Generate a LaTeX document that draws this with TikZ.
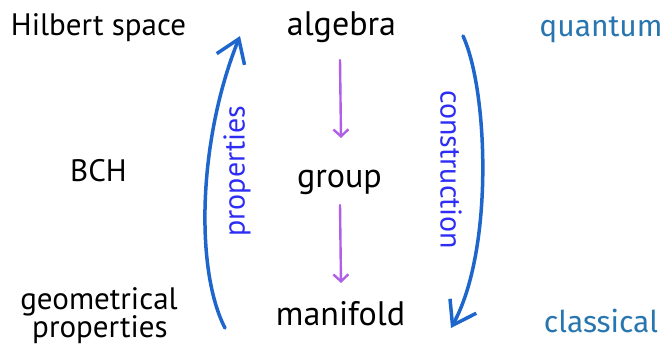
\documentclass[tikz,border=0pt]{standalone}
\usepackage{fontspec}
\setmainfont{PT Sans}
\newfontfamily\handfont{Fira Sans}
\usetikzlibrary{arrows.meta}
\definecolor{arrowblue}{RGB}{30,102,204}
\definecolor{labelblue}{RGB}{45,45,245}
\definecolor{arrowpurple}{RGB}{176,96,230}
\definecolor{handblue}{RGB}{40,118,176}
\tikzset{
  term/.style={inner sep=0pt, anchor=base, font=\fontsize{34}{36}\selectfont},
  side/.style={inner sep=0pt, anchor=base, font=\fontsize{31}{28}\selectfont},
  hand/.style={inner sep=0pt, anchor=base, text=handblue, font=\handfont\fontsize{30}{30}\selectfont},
  biglabel/.style={inner sep=0pt, text=labelblue, font=\fontsize{30}{30}\selectfont},
  bigarrow/.style={draw=arrowblue, line width=3.5pt, line cap=round,
    -{Straight Barb[length=22pt,width=30pt,line width=3.5pt]}},
  smallarrow/.style={draw=arrowpurple, line width=2.4pt, line cap=round,
    -{Straight Barb[length=7pt,width=15pt,line width=2.4pt]}}
}
\begin{document}
\begin{tikzpicture}[x=1pt,y=-1pt]
\useasboundingbox (0,0) rectangle (666,345);
% left column
\node[side] (hilbert) at (98.5,36) {Hilbert space};
\node[side] (bch) at (98.5,181) {BCH};
\node[side] (geom) at (99,309) {geometrical};
\node[side] (geomprop) at (100,337) {properties};
% centre column
\node[term] (algebra) at (341.5,36) {algebra};
\node[term] (group) at (339.5,187) {group};
\node[term] (manifold) at (340.5,325) {manifold};
% right column
\node[hand] (quantum) at (601,37) {quantum};
\node[hand] (classical) at (601,332) {classical};
% purple arrows
\coordinate (a1s) at (340,60);
\coordinate (a1e) at (341,138);
\coordinate (a2s) at (340,205);
\coordinate (a2e) at (341,283);
\draw[smallarrow] (a1s) -- (a1e);
\draw[smallarrow] (a2s) -- (a2e);
% big blue arrows
\coordinate (pbot) at (225,328);
\coordinate (ptop) at (240,36);
\draw[bigarrow] (pbot) .. controls (195,270) and (198,140) .. (ptop);
\node[biglabel, rotate=90] (proplabel) at (237,171) {properties};
\coordinate (ctop) at (463,36);
\coordinate (cbot) at (451,328);
\draw[bigarrow] (ctop) .. controls (488,90) and (494,250) .. (cbot);
\node[biglabel, rotate=-90] (conslabel) at (451,170) {construction};
\end{tikzpicture}
\end{document}
